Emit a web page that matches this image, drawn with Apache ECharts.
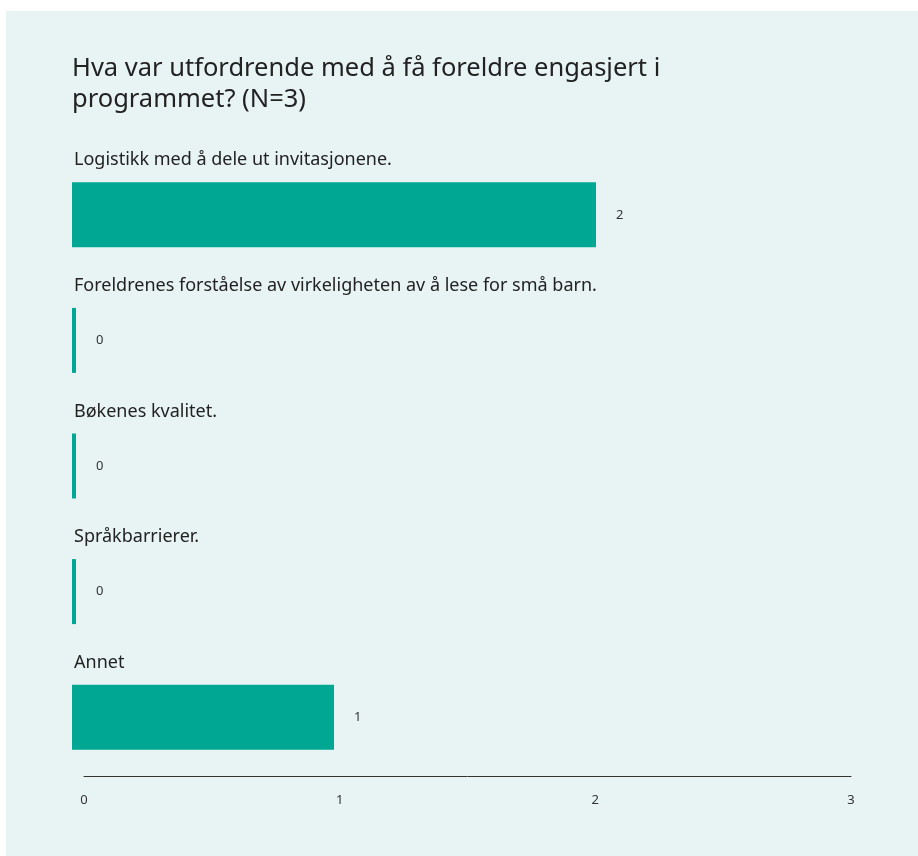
<!DOCTYPE html>
<html>
<head>
<meta charset="utf-8">
<title>Foreldre engasjert</title>
<script src="https://cdn.jsdelivr.net/npm/echarts@6/dist/echarts.min.js"></script>
<style>
  html, body { margin: 0; padding: 0; background: #ffffff; }
  #chart { position: absolute; left: 6px; top: 11px; width: 912px; height: 845px; background: #e8f4f4; }
</style>
</head>
<body>
<div id="chart"></div>
<script>
// data
const titleText = 'Hva var utfordrende med å få foreldre engasjert i\nprogrammet? (N=3)'
const categories = [
  'Logistikk med å dele ut invitasjonene.',
  'Foreldrenes forståelse av virkeligheten av å lese for små barn.',
  'Bøkenes kvalitet.',
  'Språkbarrierer.',
  'Annet'
]
const counts = [2, 0, 0, 0, 1]
const tickValues = [0, 1, 2, 3]

const fontFamily = '"Noto Sans", sans-serif'
const barColor = '#00a792'

const chart = echarts.init(document.getElementById('chart'))

const option = {
  backgroundColor: '#e8f4f4',
  animation: false,
  textStyle: { fontFamily: fontFamily },
  title: {
    text: titleText,
    left: 66,
    top: 42,
    padding: 0,
    textStyle: {
      fontFamily: fontFamily,
      fontSize: 25.5,
      fontWeight: 'normal',
      lineHeight: 31,
      color: '#222222'
    }
  },
  grid: [
    // bars
    { left: 66, right: 60, top: 141, bottom: 76 },
    // visible axis
    { left: 78, right: 67, top: 141, bottom: 80 }
  ],
  xAxis: [
    {
      gridIndex: 0,
      type: 'value',
      min: 0,
      max: 3,
      show: false
    },
    {
      gridIndex: 1,
      type: 'value',
      min: tickValues[0],
      max: tickValues[tickValues.length - 1],
      interval: 1,
      axisLine: { show: true, lineStyle: { color: '#333333', width: 1 } },
      axisTick: { show: false },
      splitLine: { show: false },
      axisLabel: {
        margin: 18,
        fontSize: 13,
        color: '#333333',
        fontFamily: fontFamily
      }
    }
  ],
  yAxis: [
    {
      gridIndex: 0,
      type: 'category',
      inverse: true,
      data: categories,
      show: false
    },
    {
      gridIndex: 1,
      type: 'category',
      data: [''],
      show: false
    }
  ],
  series: [
    {
      type: 'bar',
      xAxisIndex: 0,
      yAxisIndex: 0,
      data: counts,
      barWidth: 65,
      barMinHeight: 4,
      itemStyle: { color: barColor },
      label: {
        show: true,
        position: 'right',
        distance: 20,
        fontSize: 13,
        color: '#333333'
      }
    },
    {
      // category names above each bar
      type: 'bar',
      xAxisIndex: 0,
      yAxisIndex: 0,
      data: categories.map(() => 0),
      barWidth: 65,
      barGap: '-100%',
      itemStyle: { color: 'transparent' },
      silent: true,
      label: {
        show: true,
        position: [2, -22],
        verticalAlign: 'middle',
        align: 'left',
        fontSize: 18,
        lineHeight: 22,
        color: '#222222',
        formatter: (p) => categories[p.dataIndex]
      }
    }
  ]
}

chart.setOption(option)
</script>
</body>
</html>
